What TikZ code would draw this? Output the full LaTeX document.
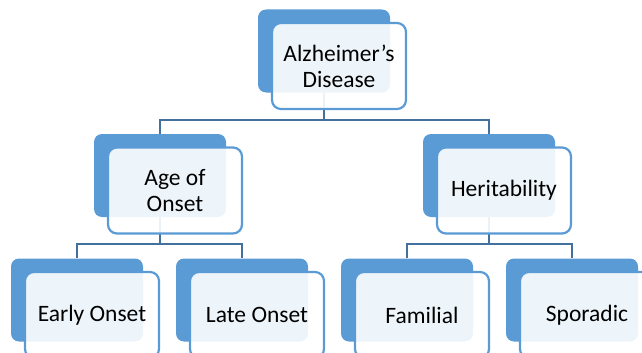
\documentclass[tikz,border=0pt]{standalone}
\usepackage{fontspec}
\setmainfont{Carlito}
\usetikzlibrary{positioning}
\definecolor{BoxBlue}{RGB}{91,155,213}
\definecolor{LinkBlue}{RGB}{65,113,156}

\begin{document}
\begin{tikzpicture}[x=1pt,y=-1pt,
        back/.style={rounded corners=8pt,fill=BoxBlue,
                     minimum width=132pt,minimum height=83pt,inner sep=0pt},
        front/.style={rounded corners=9pt,draw=BoxBlue,line width=2.2pt,
                      fill=white,fill opacity=0.9,text opacity=1,
                      minimum width=134pt,minimum height=86pt,inner sep=0pt,
                      align=center,font=\fontsize{23.5}{26}\selectfont,
                      xshift=15pt,yshift=-15pt},
        link/.style={draw=LinkBlue,line width=2pt}
      ]
        \useasboundingbox (0,0) rectangle (642,353);
        \clip (0,0) rectangle (642,353);
        % back boxes
        \node[back] (ad)  at (324,51)    {};
        \node[back] (age) at (160,175.5) {};
        \node[back] (her) at (489,175.5) {};
        \node[back] (eo)  at (77,300)    {};
        \node[back] (lo)  at (242,300)   {};
        \node[back] (fam) at (407,300)   {};
        \node[back] (spo) at (572,300)   {};
        % connectors
        \draw[link] (ad.south)  -- ++(0,27) -| (age.north);
        \draw[link] (ad.south)  -- ++(0,27) -| (her.north);
        \draw[link] (age.south) -- ++(0,27) -| (eo.north);
        \draw[link] (age.south) -- ++(0,27) -| (lo.north);
        \draw[link] (her.south) -- ++(0,27) -| (fam.north);
        \draw[link] (her.south) -- ++(0,27) -| (spo.north);
        % front boxes
        \node[front] (ad-t)  at (ad)  {Alzheimer’s\\Disease};
        \node[front] (age-t) at (age) {Age of\\Onset};
        \node[front] (her-t) at (her) {Heritability};
        \node[front] (eo-t)  at (eo)  {Early Onset};
        \node[front] (lo-t)  at (lo)  {Late Onset};
        \node[front] (fam-t) at (fam) {Familial};
        \node[front] (spo-t) at (spo) {Sporadic};
      \end{tikzpicture}
\end{document}
